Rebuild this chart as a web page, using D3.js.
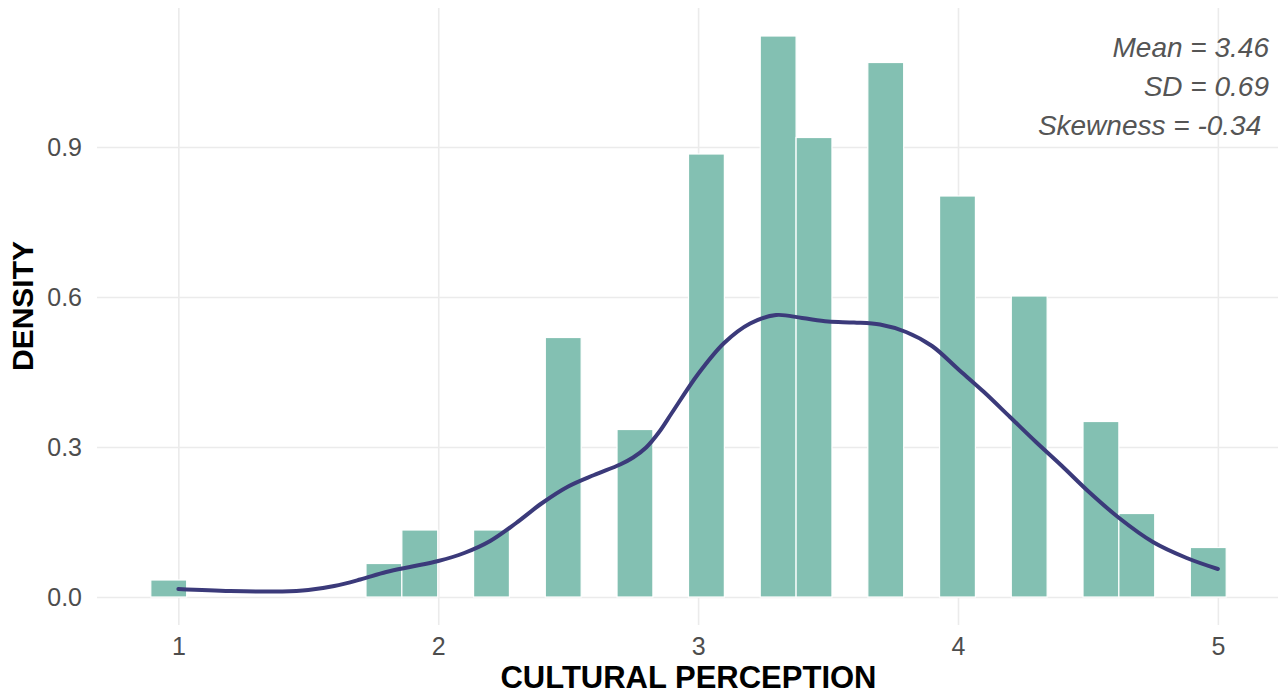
<!DOCTYPE html>
<html>
<head>
<meta charset="utf-8">
<script src="https://cdn.jsdelivr.net/npm/d3@7"></script>
<style>
  body { margin: 0; background: #fff; }
  svg { font-family: "Liberation Sans", Arial, sans-serif; }
  .grid line { stroke: #ebebeb; stroke-width: 1.6; }
  .grid .domain { display: none; }
  .tickLabels text { fill: #4d4d4d; font-size: 25px; }
  .tickLabels .domain, .tickLabels line { display: none; }
  .axisTitle { font-weight: bold; fill: #000; }
  .stat { font-style: italic; font-size: 28px; fill: #555; white-space: pre; }
</style>
</head>
<body>
<div id="chart"></div>
<script>
// Histogram bins (density scale)
var binWidth = 0.138;
var binCenters = [0.963, 1.791, 1.929, 2.205, 2.481, 2.757, 3.032, 3.308, 3.446, 3.722, 3.998, 4.274, 4.550, 4.688, 4.963];
var binDensity = [0.034, 0.067, 0.134, 0.134, 0.519, 0.335, 0.886, 1.122, 0.919, 1.069, 0.802, 0.602, 0.351, 0.167, 0.099];

// Kernel density curve points
var densX = [1.0, 1.2, 1.4, 1.5, 1.6, 1.7, 1.8, 1.9, 2.0, 2.1, 2.2, 2.3, 2.4, 2.5, 2.6, 2.7, 2.75, 2.8, 2.85, 2.9, 3.0, 3.1, 3.2, 3.3, 3.4, 3.5, 3.6, 3.7, 3.8, 3.9, 4.0, 4.1, 4.2, 4.3, 4.4, 4.5, 4.62, 4.75, 4.88, 5.0];
var densY = [0.016, 0.012, 0.011, 0.014, 0.022, 0.035, 0.050, 0.061, 0.072, 0.088, 0.112, 0.148, 0.188, 0.221, 0.244, 0.265, 0.279, 0.299, 0.330, 0.369, 0.446, 0.508, 0.547, 0.564, 0.558, 0.551, 0.549, 0.545, 0.530, 0.502, 0.456, 0.410, 0.360, 0.310, 0.262, 0.212, 0.158, 0.110, 0.078, 0.056];

// Axis ticks
var xTicks = [1, 2, 3, 4, 5];
var yTicks = [0, 0.3, 0.6, 0.9];

// Annotation lines
var statLines = ["Mean = 3.46", "SD = 0.69", "Skewness = -0.34 "];

var svgWidth = 1278;
var svgHeight = 695;

// panel area
var panel = { left: 97, right: 1280, top: 8, bottom: 625 };

var svg = d3.select("#chart")
  .append("svg")
  .attr("width", svgWidth)
  .attr("height", svgHeight);

var xScale = d3.scaleLinear()
  .domain([0.687, 5.239])
  .range([panel.left, panel.right]);

var yScale = d3.scaleLinear()
  .domain([-0.056, 1.178])
  .range([panel.bottom, panel.top]);

// grid lines
svg.append("g")
  .attr("class", "grid")
  .attr("transform", `translate(0, ${panel.bottom})`)
  .call(d3.axisBottom(xScale).tickValues(xTicks).tickSize(-(panel.bottom - panel.top)).tickFormat(""));

svg.append("g")
  .attr("class", "grid")
  .attr("transform", `translate(${panel.left}, 0)`)
  .call(d3.axisLeft(yScale).tickValues(yTicks).tickSize(-(panel.right - panel.left)).tickFormat(""));

// histogram bars
svg.append("g")
  .selectAll("rect")
  .data(binCenters)
  .enter()
  .append("rect")
  .attr("x", d => xScale(d - binWidth / 2))
  .attr("width", d => xScale(d + binWidth / 2) - xScale(d - binWidth / 2))
  .attr("y", (d, i) => yScale(binDensity[i]))
  .attr("height", (d, i) => yScale(0) - yScale(binDensity[i]))
  .attr("fill", "#83c0b2")
  .attr("stroke", "#fff")
  .attr("stroke-width", 1.2);

// density curve
var line = d3.line()
  .x(d => xScale(d[0]))
  .y(d => yScale(d[1]))
  .curve(d3.curveCatmullRom.alpha(0.5));

svg.append("path")
  .datum(densX.map((x, i) => [x, densY[i]]))
  .attr("d", line)
  .attr("fill", "none")
  .attr("stroke", "#3b3a7a")
  .attr("stroke-width", 4)
  .attr("stroke-linecap", "round");

// tick labels
svg.append("g")
  .attr("class", "tickLabels")
  .attr("transform", `translate(0, ${panel.bottom})`)
  .call(d3.axisBottom(xScale).tickValues(xTicks).tickSize(0).tickPadding(12).tickFormat(d3.format("d")));

svg.append("g")
  .attr("class", "tickLabels")
  .attr("transform", `translate(${panel.left}, 0)`)
  .call(d3.axisLeft(yScale).tickValues(yTicks).tickSize(0).tickPadding(15).tickFormat(d3.format(".1f")));

// axis titles
svg.append("text")
  .attr("class", "axisTitle")
  .attr("text-anchor", "middle")
  .attr("font-size", 31)
  .attr("x", (panel.left + panel.right) / 2)
  .attr("y", 688)
  .text("CULTURAL PERCEPTION");

svg.append("text")
  .attr("class", "axisTitle")
  .attr("text-anchor", "middle")
  .attr("font-size", 30)
  .attr("transform", "translate(33, 306) rotate(-90)")
  .text("DENSITY");

// stats annotation
svg.append("g")
  .selectAll("text")
  .data(statLines)
  .enter()
  .append("text")
  .attr("class", "stat")
  .attr("text-anchor", "end")
  .attr("x", 1269)
  .attr("y", (d, i) => 57 + i * 39)
  .text(d => d);
</script>
</body>
</html>
